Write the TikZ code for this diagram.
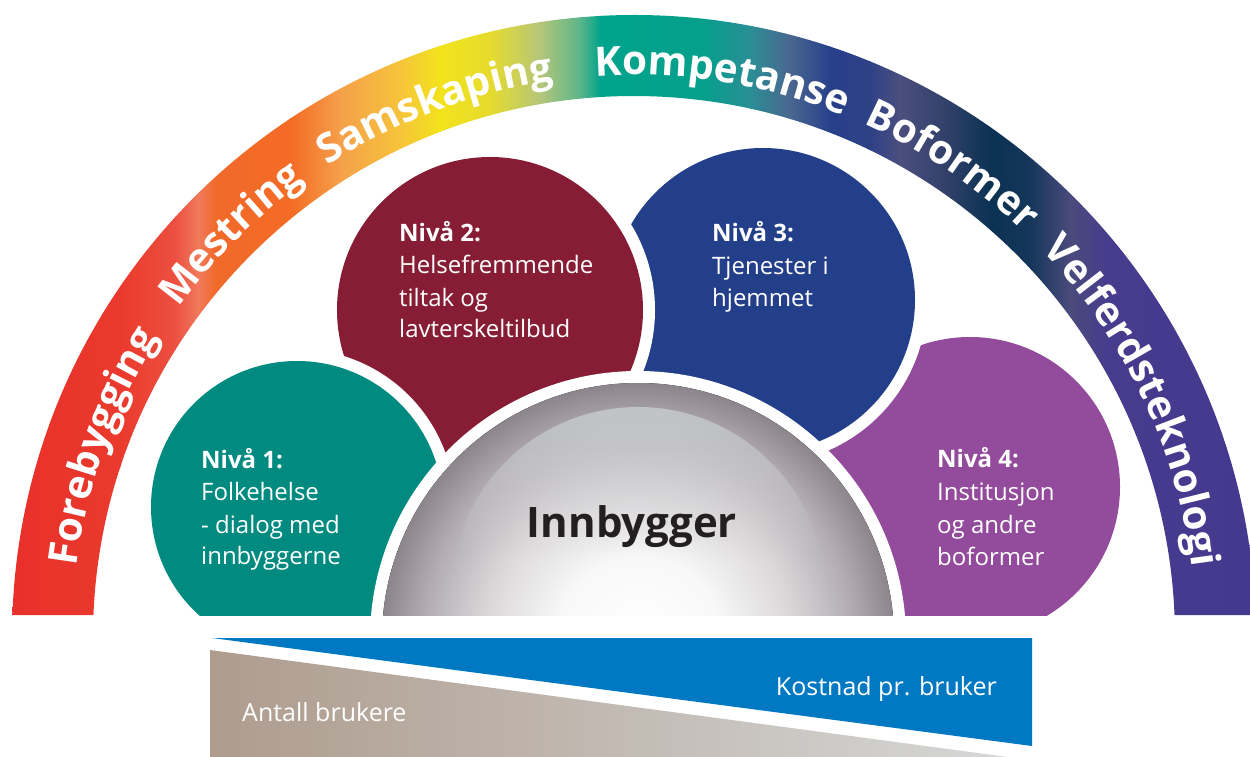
\documentclass[tikz,border=0pt]{standalone}
\usepackage{fontspec}
\setmainfont{Open Sans}
\usetikzlibrary{decorations.text,fadings}

\definecolor{bA}{HTML}{E8302A}
\definecolor{bB}{HTML}{EA3A2D}
\definecolor{bC}{HTML}{EC5040}
\definecolor{bD}{HTML}{F07A5C}
\definecolor{bE}{HTML}{F26A2A}
\definecolor{bF}{HTML}{F36B25}
\definecolor{bG}{HTML}{F5A04A}
\definecolor{bH}{HTML}{F6C43A}
\definecolor{bI}{HTML}{F2E31B}
\definecolor{bJ}{HTML}{E6DB2E}
\definecolor{bK}{HTML}{B5C67A}
\definecolor{bL}{HTML}{5AB58A}
\definecolor{bM}{HTML}{00A38B}
\definecolor{bN}{HTML}{04A08C}
\definecolor{bO}{HTML}{2A8E94}
\definecolor{bP}{HTML}{4A6690}
\definecolor{bQ}{HTML}{27408A}
\definecolor{bR}{HTML}{2E4186}
\definecolor{bS}{HTML}{4C4F7E}
\definecolor{bT}{HTML}{2E3F68}
\definecolor{bU}{HTML}{0B3252}
\definecolor{bV}{HTML}{14365A}
\definecolor{bW}{HTML}{4A4B7C}
\definecolor{bX}{HTML}{473B8E}
\definecolor{bY}{HTML}{45398F}

\definecolor{cTeal}{HTML}{008A80}
\definecolor{cMaroon}{HTML}{861D35}
\definecolor{cBlue}{HTML}{243F8A}
\definecolor{cPurple}{HTML}{934B9B}
\definecolor{cCost}{HTML}{0079C2}
\definecolor{cTan}{HTML}{AE9C8E}
\definecolor{cTanMid}{HTML}{BBB1A9}
\definecolor{cGrey}{HTML}{D6D8D8}
\definecolor{cInk}{HTML}{231F20}
\definecolor{domeEdge}{HTML}{8C858C}
\definecolor{domeRing}{HTML}{B2ACB1}
\definecolor{domeMid}{HTML}{DAD7D9}
\definecolor{domeCore}{HTML}{F8F8F8}
\definecolor{domeHl}{HTML}{C3C9CB}
\definecolor{domeHlLow}{HTML}{CFCDCF}

\pgfdeclareradialshading{domeshade}{\pgfpoint{0bp}{0bp}}{%
  color(0bp)=(white); color(8bp)=(domeCore); color(15bp)=(domeMid);
  color(21bp)=(domeRing); color(25bp)=(domeEdge); color(50bp)=(domeEdge)}

\newcommand\arcfont{\fontsize{40.5}{41}\selectfont\bfseries}

\begin{document}
\begin{tikzpicture}[x=1pt,y=1pt,
  nivtext/.style={anchor=base west, text=white, inner sep=0pt,
    font=\fontsize{24}{32}\selectfont},
  bottomtext/.style={text=white, inner sep=0pt,
    font=\fontsize{25}{30}\selectfont},
  arcword/.style={decorate, decoration={text along path, text={#1},
    text align=center, text color=white}},
]
\useasboundingbox (0,0) rectangle (1250,756);
\coordinate (C) at (634,119);

% ---------- rainbow band ----------
\begin{scope}
  \clip (1255.61,141) arc[start angle=2.027, end angle=177.973, radius=622pt]
     -- (93.45,141) arc[start angle=177.669, end angle=2.331, radius=541pt] -- cycle;
  \foreach \xa/\ca/\xb/\cb in {
     0/bA/12/bA, 12/bA/120/bB, 120/bB/175/bC, 175/bC/198/bD, 198/bD/215/bE,
     215/bE/290/bF, 290/bF/340/bG, 340/bG/400/bH, 400/bH/440/bI,
     440/bI/490/bJ, 490/bJ/540/bK, 540/bK/580/bL, 580/bL/600/bM,
     600/bM/700/bN, 700/bN/750/bO, 750/bO/790/bP, 790/bP/830/bQ,
     830/bQ/870/bR, 870/bR/900/bS, 900/bS/950/bT, 950/bT/990/bU,
     990/bU/1030/bV, 1030/bV/1070/bW, 1070/bW/1110/bX, 1110/bX/1260/bY}
  { \shade[left color=\ca, right color=\cb] (\xa,130) rectangle (\xb+0.7,760); }
\end{scope}

% ---------- words on the band ----------
\path[arcword={|\arcfont|Forebygging}] (C) ++(205.3:562pt) arc[start angle=205.3, end angle=115.3, radius=562pt];
\path[arcword={|\arcfont|Mestring}] (C) ++(180:562pt) arc[start angle=180, end angle=90, radius=562pt];
\path[arcword={|\arcfont|Samskaping}] (C) ++(155.6:562pt) arc[start angle=155.6, end angle=65.6, radius=562pt];
\path[arcword={|\arcfont|Kompetanse}] (C) ++(126:562pt) arc[start angle=126, end angle=36, radius=562pt];
\path[arcword={|\arcfont|Boformer}] (C) ++(101:562pt) arc[start angle=101, end angle=11, radius=562pt];
\path[arcword={|\arcfont|Velferdsteknologi}] (C) ++(70.3:562pt) arc[start angle=70.3, end angle=-19.7, radius=562pt];

% ---------- level circles and dome ----------
\begin{scope}
  \clip (0,141) rectangle (1250,760);
  % Nivå 4
  \fill[white] (970,269) circle (162pt);
  \fill[cPurple] (970,269) circle (150pt);
  % Nivå 3
  \fill[white] (763,456) circle (164pt);
  \fill[cBlue] (763,456) circle (152pt);
  % Nivå 2
  \fill[white] (490,446) circle (165pt);
  \fill[cMaroon] (490,446) circle (153pt);
  % Nivå 1
  \fill[white] (297,249) circle (158pt);
  \fill[cTeal] (297,249) circle (146pt);
  % dome
  \fill[white] (638,117) circle (268pt);
  \fill[shading=domeshade] (638,117) circle (256pt);
  % soft highlight cap
  \shade[top color=domeHl, bottom color=domeHlLow, path fading=south]
    (821.1,200) arc[start angle=11.72, end angle=168.28, radius=187pt] -- cycle;
\end{scope}

% ---------- texts in the circles ----------
\node[nivtext] (n1a) at (201,288) {\bfseries Nivå 1:};
\node[nivtext] (n1b) at (201,256) {Folkehelse};
\node[nivtext] (n1c) at (201,223) {- dialog med};
\node[nivtext] (n1d) at (201,192) {innbyggerne};

\node[nivtext] (n2a) at (399,514) {\bfseries Nivå 2:};
\node[nivtext] (n2b) at (399,482) {Helsefremmende};
\node[nivtext] (n2c) at (399,449) {tiltak og};
\node[nivtext] (n2d) at (399,418) {lavterskeltilbud};

\node[nivtext] (n3a) at (712,514) {\bfseries Nivå 3:};
\node[nivtext] (n3b) at (712,481) {Tjenester i};
\node[nivtext] (n3c) at (712,449) {hjemmet};

\node[nivtext] (n4a) at (937,289) {\bfseries Nivå 4:};
\node[nivtext] (n4b) at (937,256) {Institusjon};
\node[nivtext] (n4c) at (937,223) {og andre};
\node[nivtext] (n4d) at (937,191) {boformer};

\node[anchor=base, inner sep=0pt, text=cInk, font=\fontsize{42}{42}\selectfont\bfseries] (inn) at (632,219) {Innbygger};

% ---------- bottom wedges ----------
\shade[left color=cTan, middle color=cTanMid, right color=cGrey] (210,106) -- (1015,-2) -- (210,-2) -- cycle;
\fill[cCost] (212,118) -- (1032,118) -- (1032,10) -- cycle;

\node[bottomtext, anchor=base east] (cost) at (997,61) {Kostnad pr. bruker};
\node[bottomtext, anchor=base west] (users) at (242,35) {Antall brukere};
\end{tikzpicture}
\end{document}
